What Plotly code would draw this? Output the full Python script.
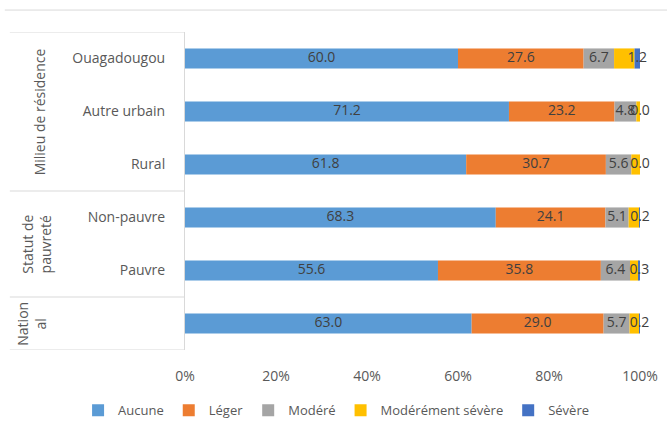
import plotly.graph_objects as go

categories = ["Ouagadougou", "Autre urbain", "Rural", "Non-pauvre", "Pauvre", "National"]
series_names = ["Aucune", "Léger", "Modéré", "Modérément sévère", "Sévère"]
aucune = [60.0, 71.2, 61.8, 68.3, 55.6, 63.0]
leger = [27.6, 23.2, 30.7, 24.1, 35.8, 29.0]
modere = [6.7, 4.8, 5.6, 5.1, 6.4, 5.7]
mod_severe = [4.5, 0.8, 1.9, 2.4, 1.9, 2.1]
severe = [1.2, 0.0, 0.0, 0.2, 0.3, 0.2]
tick_vals = [0, 20, 40, 60, 80, 100]
tick_text = ["0%", "20%", "40%", "60%", "80%", "100%"]
group_labels = ["Milieu de résidence", "Statut de<br>pauvreté", "Nation<br>al"]

colors = ["#5B9BD5", "#ED7D31", "#A5A5A5", "#FFC000", "#4472C4"]
series = [aucune, leger, modere, mod_severe, severe]
show_label = [True, True, True, False, True]
ycat = ["" if c == "National" else c for c in categories]
ykeys = list(range(len(categories)))

fig = go.Figure()
FONT = "Open Sans, Noto Sans, sans-serif"
TXT = "#404040"
GREY = "#595959"

cum = [0.0] * len(categories)
label_x, label_y, label_t = [], [], []
for name, vals, col, sl in zip(series_names, series, colors, show_label):
    fig.add_trace(go.Bar(
        y=ykeys, x=vals, base=cum[:], orientation="h", name=name,
        marker=dict(color=col, line=dict(width=0)), width=0.38,
        hoverinfo="x+name"))
    if sl:
        for i, v in enumerate(vals):
            label_x.append(cum[i] + v / 2)
            label_y.append(ykeys[i])
            label_t.append(f"{v:.1f}")
    cum = [c + v for c, v in zip(cum, vals)]

fig.add_trace(go.Scatter(
    x=label_x, y=label_y, text=label_t, mode="text", showlegend=False,
    cliponaxis=False,
    textfont=dict(family=FONT, size=14, color=TXT), hoverinfo="skip"))

fig.update_layout(
    width=667, height=421,
    margin=dict(l=185, r=27, t=32, b=71, autoexpand=False),
    barmode="overlay",
    plot_bgcolor="white", paper_bgcolor="white",
    font=dict(family=FONT, size=14, color=GREY),
    xaxis=dict(range=[0, 100], tickvals=tick_vals, ticktext=tick_text,
               showgrid=False, zeroline=False, showline=False,
               ticks="", ticklabelstandoff=16, automargin=False,
               tickfont=dict(size=14, color=GREY)),
    yaxis=dict(tickvals=ykeys, ticktext=ycat, range=[5.5, -0.5],
               showgrid=False, zeroline=False, showline=True,
               linecolor="#D9D9D9", linewidth=1, ticks="",
               ticklabelstandoff=16, automargin=False,
               tickfont=dict(size=14, color=GREY)),
    legend=dict(orientation="h", xref="paper", yref="paper",
                x=-0.235, xanchor="left", y=-0.19, yanchor="middle",
                font=dict(size=13, color=GREY), traceorder="normal",
                itemwidth=30),
    showlegend=True,
)

# group divider lines
for yb in [-0.5, 2.5, 4.5, 5.5]:
    fig.add_shape(type="line", xref="paper", yref="y", x0=-0.385, x1=0,
                  y0=yb, y1=yb, line=dict(color="#D9D9D9", width=1))
# top border line
fig.add_shape(type="line", xref="paper", yref="paper", x0=-0.396, x1=1.06,
              y0=1.069, y1=1.069, line=dict(color="#D9D9D9", width=1))

group_pos = [(-0.319, 1.0), (-0.328, 3.5), (-0.338, 5.0)]
for lab, (gx, gy) in zip(group_labels, group_pos):
    fig.add_annotation(text=lab, xref="paper", yref="y", x=gx, y=gy,
                       xanchor="center", yanchor="middle",
                       textangle=-90, showarrow=False,
                       font=dict(family=FONT, size=14, color=GREY))

fig.write_html("out.html", config={"displayModeBar": False},
               post_script="document.body.style.margin='0';")
